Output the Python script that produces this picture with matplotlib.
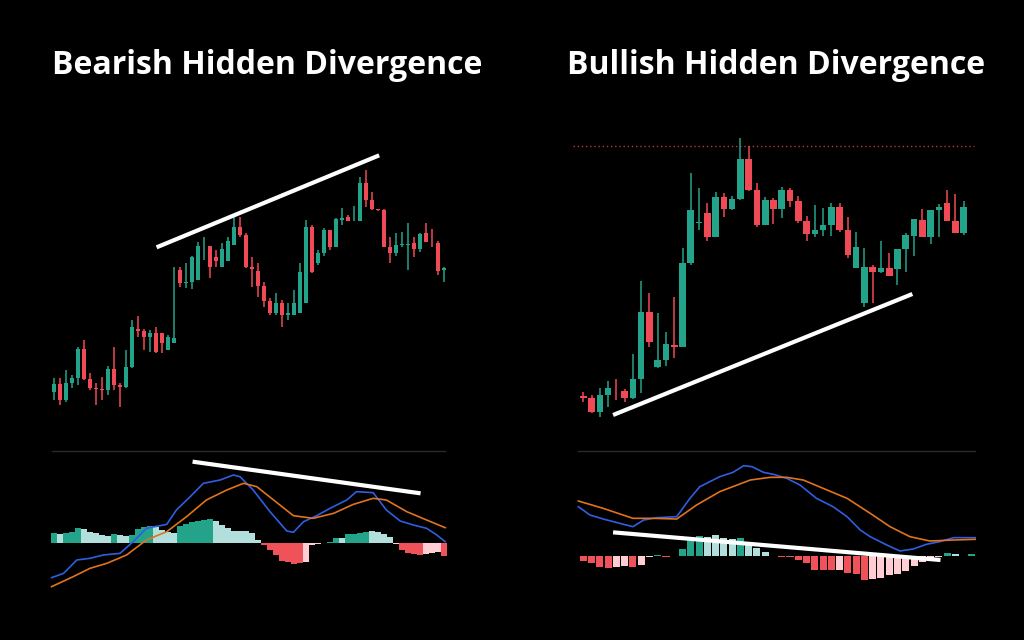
import matplotlib
matplotlib.use("Agg")
import matplotlib.pyplot as plt
from matplotlib.patches import Rectangle

# ---------------- data (arbitrary price units) ----------------
L_open  = [175,198,150,202,215,302,212,185,182,180,242,195,188,248,362,358,338,352,350,300,322,540,502,505,510,578,612,578,550,568,616,670,645,548,538,492,448,410,442,404,405,412,442,670,560,592,660,610,690,700,728,688,802,750,722,720,610,590,615,615,622,602,650,622,622,540]
L_close = [198,150,202,215,302,212,185,182,180,242,195,188,248,368,358,338,352,295,322,338,335,502,505,578,612,578,550,568,604,628,670,645,548,542,492,448,410,442,404,412,442,535,670,535,592,660,610,692,695,688,728,802,750,722,720,610,590,615,617,615,602,648,625,620,538,545]
L_high  = [215,215,240,225,310,330,230,200,220,252,310,200,300,390,402,362,360,370,330,345,550,550,560,582,625,640,600,600,620,638,700,700,650,580,560,505,455,470,450,442,480,560,690,675,600,665,660,695,725,705,732,820,840,775,722,722,638,650,655,680,638,650,680,662,628,550]
L_low   = [150,135,145,185,195,210,180,135,150,165,180,130,185,245,340,300,295,290,290,310,330,490,485,482,570,570,515,548,560,610,620,640,545,488,460,430,405,405,368,390,408,420,532,530,555,582,600,608,675,687,688,715,730,720,718,608,560,582,610,540,580,595,625,610,525,505]

L_macd_x = [0.6,2.6,4.8,7,9.2,12,14.2,16.4,19.8,21.4,23.7,25.9,28.7,30.9,32,34.2,37,39.8,40.9,42.6,44.8,47,49.8,51.4,54.2,56.4,58.7,60.9,63.1,64.8,66.2]
L_macd   = [-105,-92,-52,-47,-37,-32,3,43,55,98,138,178,188,203,198,158,93,35,31,63,81,103,128,153,150,98,65,53,43,23,3]
L_sig_x  = [0.6,4.2,7,9.8,13.1,16.4,19.8,23.1,26.4,29.8,32.6,34.8,37.6,40.9,44.2,47.6,50.9,54.2,56.4,59.8,63.1,66.2]
L_sig    = [-132,-102,-77,-62,-37,8,33,78,128,158,178,168,128,81,73,88,115,133,128,93,68,45]
L_hist   = [30,26,28,31,45,40,33,28,23,21,25,23,21,23,40,48,50,48,38,31,28,50,56,61,65,69,71,65,53,43,36,35,35,28,8,-7,-22,-37,-55,-59,-64,-62,-57,-7,-5,-2,3,13,15,25,27,28,31,36,31,26,18,-5,-22,-32,-35,-37,-34,-32,-29,-39]
L_hist_c = ["G","g","G","G","G","g","g","g","g","g","G","g","g","G","G","G","G","g","g","g","g","G","G","G","G","G","G","g","g","g","g","g","g","g","g","R","R","R","R","R","R","R","r","r","r","r","G","G","g","G","G","G","G","g","g","g","g","r","R","R","R","R","r","r","r","R"]

R_open  = [103,95,55,105,123,118,97,152,354,190,210,255,248,500,622,650,580,700,662,692,814,720,614,690,662,720,688,628,588,600,615,668,600,485,382,488,475,485,482,544,582,630,578,660,682,628,592]
R_close = [95,55,105,125,122,97,152,354,265,210,257,248,500,660,622,580,700,662,692,814,720,614,690,662,720,688,628,588,600,615,668,600,525,548,488,475,485,462,544,585,632,578,660,668,628,592,668]
R_high  = [115,105,125,148,152,122,228,448,410,352,295,400,545,772,725,680,715,710,702,875,852,742,700,695,728,725,702,642,675,665,680,682,638,595,545,495,568,530,522,590,590,664,648,678,720,708,688]
R_low   = [85,50,38,70,90,85,92,110,250,185,192,217,248,495,600,567,580,638,660,690,718,610,614,618,635,670,620,568,578,582,582,595,515,500,370,382,472,472,435,475,522,580,558,578,662,625,585]
R_ref_price = 853

R_macd_x = [0.4,1.8,3.4,5.4,7,8.3,9.9,12.3,13.9,15.1,16.3,17.5,19.1,20.4,21.4,22.8,24,25.6,27.2,29.2,31.2,32.9,34.5,35.7,37.7,39.3,40.9,42.5,44.1,45.8,48.4]
R_macd   = [148,123,111,98,88,108,115,118,173,208,223,238,251,271,268,251,245,233,213,173,148,118,78,58,33,15,21,35,43,55,55]
R_sig_x  = [0.4,3.4,7,9.5,12.3,14.7,17.5,21.2,23.6,25.6,27.6,30,32.9,35.7,38.1,40.5,42.9,45.8,48.4]
R_sig    = [165,143,113,113,111,153,193,228,236,236,228,203,173,128,88,58,45,48,50]
R_hist   = [-15,-22,-32,-35,-32,-29,-32,-27,-4,2,-4,0,20,50,61,57,63,53,51,55,43,23,13,0,-4,-2,-12,-22,-42,-43,-43,-42,-52,-55,-72,-69,-65,-57,-55,-45,-29,-17,-9,-3,8,6,0,7]
R_hist_c = ["R","R","R","R","r","r","R","r","r","G","R","r","G","G","G","g","g","g","g","G","g","g","g","g","R","R","R","R","R","R","R","r","R","R","R","r","r","r","r","r","r","r","r","r","G","g","g","G"]

L_price_trend = ([18.1, 55.2], [608, 884])
R_price_trend = ([4.6, 40.8], [45, 408])
L_macd_trend = ([24.1, 62.1], [243, 148])
R_macd_trend = ([4.6, 44.2], [71, -12])

# ---------------- style ----------------
BG = "black"
UP, DOWN = "#22a38a", "#ef4a55"
HC = {"G": "#22a38a", "g": "#b2dfdb", "R": "#f0525a", "r": "#ffcdd2"}
BLUE, ORANGE = "#2f5fe0", "#e0731f"

W, H = 1024, 640
fig = plt.figure(figsize=(W / 100, H / 100), dpi=100, facecolor=BG)

def box(x0, y0, x1, y1):
    ax = fig.add_axes([x0 / W, 1 - y1 / H, (x1 - x0) / W, (y1 - y0) / H])
    ax.set_facecolor(BG)
    ax.axis("off")
    return ax

def candles(ax, o, c, h, l, width):
    for i, (oo, cc, hh, ll) in enumerate(zip(o, c, h, l), start=1):
        col = UP if cc >= oo else DOWN
        ax.vlines(i, ll, hh, color=col, lw=1.1, zorder=2)
        lo, hi = min(oo, cc), max(oo, cc)
        ax.add_patch(Rectangle((i - width / 2, lo), width, max(hi - lo, 2), color=col, lw=0, zorder=3))

def macd(ax, hist, hc, mx, mv, sx, sv, width):
    xs = range(1, len(hist) + 1)
    ax.bar(xs, hist, width=width, color=[HC[k] for k in hc], zorder=2)
    ax.plot(mx, mv, color=BLUE, lw=1.2, zorder=3)
    ax.plot(sx, sv, color=ORANGE, lw=1.2, zorder=3)

# left panel
axL = box(40, 150, 460, 420)
axL.set_xlim(-1.33, 68.67); axL.set_ylim(90, 900)
candles(axL, L_open, L_close, L_high, L_low, 0.75)
axL.plot(*L_price_trend, color="white", lw=3, solid_capstyle="butt", zorder=4)

axLm = box(40, 445, 460, 590)
axLm.set_xlim(-1.33, 68.67); axLm.set_ylim(-142, 293)
macd(axLm, L_hist, L_hist_c, L_macd_x, L_macd, L_sig_x, L_sig, 0.85)
axLm.plot(*L_macd_trend, color="white", lw=3, solid_capstyle="butt", zorder=4)

# right panel
axR = box(570, 130, 990, 420)
axR.set_xlim(-0.61, 50.19); axR.set_ylim(30, 900)
candles(axR, R_open, R_close, R_high, R_low, 0.8)
axR.plot([-0.2, 48.2], [R_ref_price, R_ref_price], color="#c0353a", lw=1, ls=(0, (1, 2)), zorder=1)
axR.plot(*R_price_trend, color="white", lw=3, solid_capstyle="butt", zorder=4)

axRm = box(570, 445, 990, 590)
axRm.set_xlim(-0.61, 50.19); axRm.set_ylim(-102, 333)
macd(axRm, R_hist, R_hist_c, R_macd_x, R_macd, R_sig_x, R_sig, 0.85)
axRm.plot(*R_macd_trend, color="white", lw=3, solid_capstyle="butt", zorder=4)

# separators
fig.add_artist(plt.Line2D([52 / W, 445 / W], [1 - 451 / H] * 2, color="#2a2a2a", lw=1))
fig.add_artist(plt.Line2D([578 / W, 975 / W], [1 - 451 / H] * 2, color="#2a2a2a", lw=1))

# titles
for x, t in [(267, "Bearish Hidden Divergence"), (776, "Bullish Hidden Divergence")]:
    fig.text(x / W, 1 - 65 / H, t, color="white", fontsize=23, fontweight="bold",
             family="Open Sans", ha="center", va="center")

fig.savefig("out.png", dpi=100, facecolor=BG)
